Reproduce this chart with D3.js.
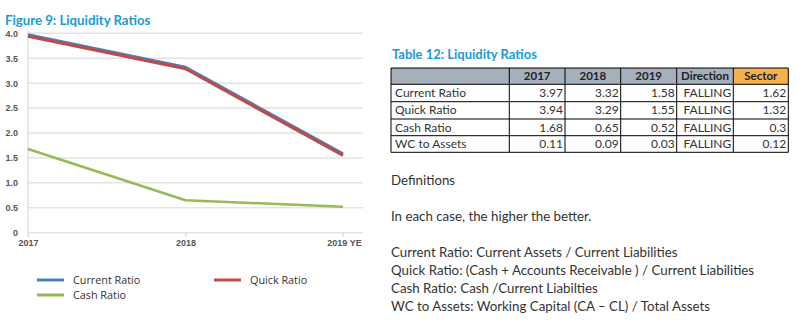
<!DOCTYPE html>
<html><head><meta charset="utf-8">
<script src="https://cdn.jsdelivr.net/npm/d3@7/dist/d3.min.js"></script>
<style>
body{margin:0;background:#fff;}
svg{display:block;}
</style></head>
<body>
<svg id="c" width="801" height="328"></svg>
<script>
const years = ["2017", "2018", "2019 YE"];
const currentRatio = [3.97, 3.32, 1.58];
const quickRatio = [3.94, 3.29, 1.55];
const cashRatio = [1.68, 0.65, 0.52];
const yTicks = [0, 0.5, 1.0, 1.5, 2.0, 2.5, 3.0, 3.5, 4.0];

const tableCols = ["2017", "2018", "2019", "Direction", "Sector"];
const tableRows = ["Current Ratio", "Quick Ratio", "Cash Ratio", "WC to Assets"];
const tableValues = [
  ["3.97", "3.32", "1.58", "FALLING", "1.62"],
  ["3.94", "3.29", "1.55", "FALLING", "1.32"],
  ["1.68", "0.65", "0.52", "FALLING", "0.3"],
  ["0.11", "0.09", "0.03", "FALLING", "0.12"]
];
const definitions = [
  "Definitions",
  "",
  "In each case, the higher the better.",
  "",
  "Current Ratio: Current Assets / Current Liabilities",
  "Quick Ratio: (Cash + Accounts Receivable ) / Current Liabilities",
  "Cash Ratio: Cash /Current Liabilties",
  "WC to Assets: Working Capital (CA \u2013 CL) / Total Assets"
];

const series = [
  {name: "Current Ratio", values: currentRatio, color: "#4a7ebb", w: 3},
  {name: "Quick Ratio", values: quickRatio, color: "#be4b48", w: 3},
  {name: "Cash Ratio", values: cashRatio, color: "#98b954", w: 2.5}
];

const svg = d3.select("#c");
const calibri = "Lato, 'Open Sans', sans-serif";

// Chart title
svg.append("text").attr("x", 5).attr("y", 25)
  .attr("font-family", calibri).attr("font-weight", "bold").attr("font-size", 13.2)
  .attr("fill", "#1b9ad6").text("Figure 9: Liquidity Ratios");

const x = d3.scalePoint().domain(years).range([28, 343]);
const y = d3.scaleLinear().domain([0, 4]).range([232.7, 33.3]);

// gridlines
svg.append("g").selectAll("line").data(yTicks).join("line")
  .attr("x1", 28).attr("x2", 363)
  .attr("y1", d => y(d)).attr("y2", d => y(d))
  .attr("stroke", "#e3e3e3").attr("stroke-width", 1.5);

// vertical axis line
svg.append("line").attr("x1", 28).attr("x2", 28).attr("y1", 30).attr("y2", 237)
  .attr("stroke", "#e0e0e0").attr("stroke-width", 1.5);

// y axis
const yAxis = d3.axisLeft(y).tickValues(yTicks)
  .tickFormat(d => d === 0 ? "0" : d3.format(".1f")(d)).tickSize(0).tickPadding(10);
const gy = svg.append("g").attr("transform", "translate(28,0)").call(yAxis);
gy.select(".domain").remove();
gy.selectAll("text").attr("font-family", "'Liberation Sans', Arial, sans-serif")
  .attr("font-size", 9).attr("fill", "#555").attr("font-weight", "bold");

// x axis
const xAxis = d3.axisBottom(x).tickSize(4).tickPadding(3);
const gx = svg.append("g").attr("transform", `translate(0,${y(0)})`).call(xAxis);
gx.select(".domain").remove();
gx.selectAll("line").attr("stroke", "#e0e0e0").attr("stroke-width", 1.5);
gx.selectAll("text").attr("font-family", "'Liberation Sans', Arial, sans-serif")
  .attr("font-size", 9).attr("fill", "#555").attr("font-weight", "bold");
gx.selectAll(".tick").filter(d => d === "2019 YE").select("text").attr("dx", 1);

// lines
const line = d3.line().x((d, i) => x(years[i])).y(d => y(d));
svg.append("g").selectAll("path").data(series).join("path")
  .attr("d", d => line(d.values)).attr("fill", "none")
  .attr("stroke", d => d.color).attr("stroke-width", d => d.w)
  .attr("stroke-linejoin", "round");

// legend
const legendPos = [[37, 280], [214, 280], [37, 295]];
const lg = svg.append("g").selectAll("g").data(series).join("g")
  .attr("transform", (d, i) => `translate(${legendPos[i][0]},${legendPos[i][1]})`);
lg.append("line").attr("x1", 0).attr("x2", 27).attr("y1", 0).attr("y2", 0)
  .attr("stroke", d => d.color).attr("stroke-width", 3);
lg.append("text").attr("x", 36).attr("y", 4)
  .attr("font-family", "'Open Sans', sans-serif").attr("font-size", 10.8).attr("fill", "#333")
  .text(d => d.name);

// Table title
svg.append("text").attr("x", 392).attr("y", 59)
  .attr("font-family", calibri).attr("font-weight", "bold").attr("font-size", 13)
  .attr("fill", "#1b9ad6").text("Table 12: Liquidity Ratios");

// Table
const colEdges = [391, 509.3, 565, 620.7, 676.7, 733.3, 788.3];
const rowEdges = [68, 84.3, 101.7, 119, 135.7, 152.3];
const tg = svg.append("g");
tg.append("rect").attr("x", colEdges[0]).attr("y", rowEdges[0])
  .attr("width", colEdges[5] - colEdges[0]).attr("height", rowEdges[1] - rowEdges[0]).attr("fill", "#a5b0bc");
tg.append("rect").attr("x", colEdges[5]).attr("y", rowEdges[0])
  .attr("width", colEdges[6] - colEdges[5]).attr("height", rowEdges[1] - rowEdges[0]).attr("fill", "#f5b04f");
tableCols.forEach((c, i) => {
  tg.append("text").attr("x", (colEdges[i + 1] + colEdges[i + 2]) / 2).attr("y", rowEdges[0] + 12)
    .attr("text-anchor", "middle").attr("font-family", calibri).attr("font-weight", "bold")
    .attr("font-size", 11.5).attr("fill", "#222").text(c);
});
tableRows.forEach((r, ri) => {
  const yy = rowEdges[ri + 1] + 12.5;
  tg.append("text").attr("x", colEdges[0] + 4).attr("y", yy)
    .attr("font-family", calibri).attr("font-size", 12).attr("fill", "#333").text(r);
  tableValues[ri].forEach((v, ci) => {
    tg.append("text").attr("x", colEdges[ci + 2] - 2).attr("y", yy).attr("text-anchor", "end")
      .attr("font-family", calibri).attr("font-size", 12).attr("fill", "#333").text(v);
  });
});
rowEdges.forEach(r => tg.append("line").attr("x1", colEdges[0]).attr("x2", colEdges[6])
  .attr("y1", r).attr("y2", r).attr("stroke", "#000").attr("stroke-width", 1));
colEdges.forEach(c => tg.append("line").attr("x1", c).attr("x2", c)
  .attr("y1", rowEdges[0]).attr("y2", rowEdges[5]).attr("stroke", "#000").attr("stroke-width", 1));

// definitions
svg.append("g").selectAll("text").data(definitions).join("text")
  .attr("x", 391).attr("y", (d, i) => 184.5 + i * 18)
  .attr("font-family", calibri).attr("font-size", 13.3).attr("fill", "#333")
  .text(d => d);
</script>
</body></html>
